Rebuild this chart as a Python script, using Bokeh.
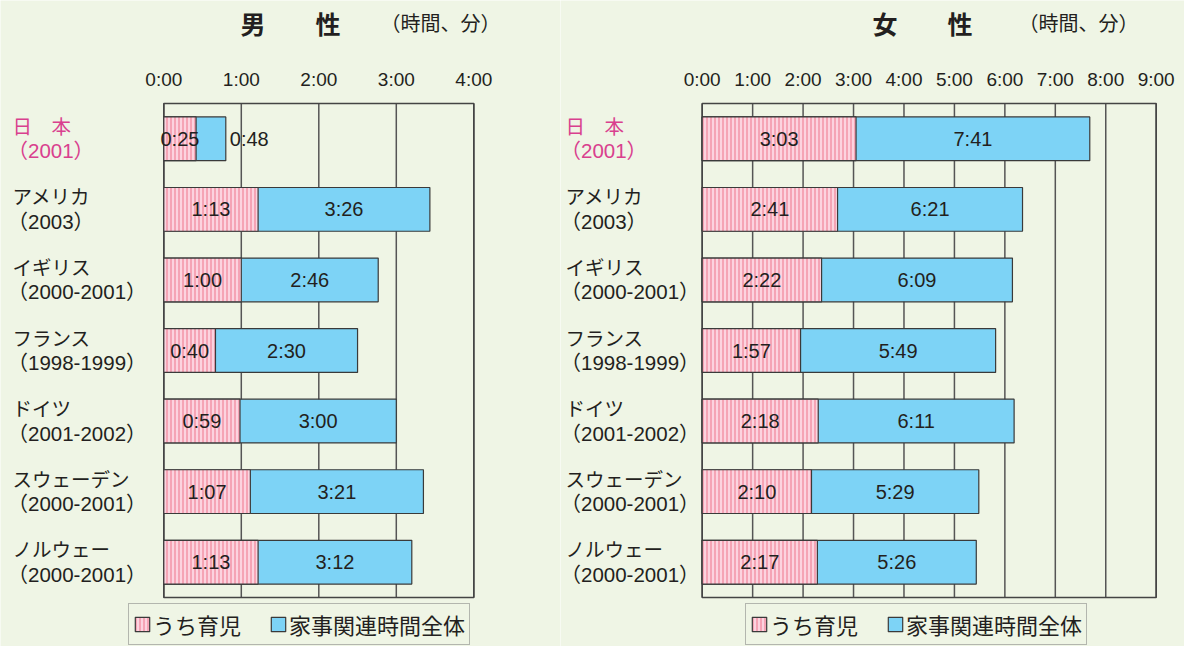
from bokeh.plotting import figure
from bokeh.models import ColumnDataSource, Range1d, Legend, LegendItem
from bokeh.layouts import row
from bokeh.embed import file_html
from bokeh.resources import INLINE
from bokeh.core.properties import value

# ---------------- data ----------------
countries = ["日\u3000本", "アメリカ", "イギリス", "フランス", "ドイツ", "スウェーデン", "ノルウェー"]
years = ["（2001）", "（2003）", "（2000-2001）", "（1998-1999）", "（2001-2002）",
         "（2000-2001）", "（2000-2001）"]
# minutes per day
male_childcare = [25, 73, 60, 40, 59, 67, 73]
male_total = [48, 206, 166, 150, 180, 201, 192]
female_childcare = [183, 161, 142, 117, 138, 130, 137]
female_total = [461, 381, 369, 349, 371, 329, 326]
male_ticks = [0, 60, 120, 180, 240]
male_tick_labels = ["0:00", "1:00", "2:00", "3:00", "4:00"]
female_ticks = [0, 60, 120, 180, 240, 300, 360, 420, 480, 540]
female_tick_labels = ["0:00", "1:00", "2:00", "3:00", "4:00", "5:00", "6:00", "7:00", "8:00", "9:00"]
legend_labels = ["うち育児", "家事関連時間全体"]

BG = "#eff5e5"
BLUE = "#7dd3f6"
PINK = "#fcd3df"
PINK_LINE = "#ee7d92"
DARK = "#231f20"
MAGENTA = "#d9408e"
GRID = "#555555"
EDGE = "#3a3a3a"
JP = value("Liberation Sans, Noto Sans CJK JP")
CJK = value("Noto Sans CJK JP")
NUM = value("Liberation Sans")
CJK_S = "Noto Sans CJK JP"

H = 646
TOP, BOTTOM = 103, 597          # pixel rows of the plotting box


def fmt(m):
    return f"{m // 60}:{m % 60:02d}"


def make_panel(title, childcare, total, ticks, tick_labels, width, frame_left, frame_w,
               label_x, legend_x, title_x, unit_x):
    xmax = ticks[-1]
    n = len(countries)
    sx = frame_w / xmax                 # px per minute
    slot = (BOTTOM - TOP) / n           # px per category
    X = lambda px: (px - frame_left) / sx
    Y = lambda py: (py - TOP) / slot

    p = figure(width=width, height=H, output_backend="svg", toolbar_location=None,
               x_range=Range1d(X(0), X(width)), y_range=Range1d(Y(H), Y(0)),
               x_axis_location=None, y_axis_location=None, min_border=0,
               background_fill_color=BG, border_fill_color=BG)
    p.outline_line_color = None
    p.grid.visible = False

    # grid + box
    p.segment(x0=ticks, y0=[0] * len(ticks), x1=ticks, y1=[n] * len(ticks),
              line_color=GRID, line_width=1.5)
    p.quad(left=[0], right=[xmax], top=[0], bottom=[n], fill_color=None,
           line_color="#444444", line_width=1.5)

    # tick labels (top)
    p.text(x=ticks, y=[Y(79)] * len(ticks), text=tick_labels, text_align="center",
           text_baseline="middle", text_font=NUM, text_font_size="19px", text_color=DARK)

    ys = [i + 0.5 for i in range(n)]
    src = ColumnDataSource(dict(y=ys, childcare=childcare, total=total))
    r_total = p.hbar(y="y", left=0, right="total", height=0.62, source=src,
                     fill_color=BLUE, line_color=EDGE, line_width=1.2)
    r_child = p.hbar(y="y", left=0, right="childcare", height=0.62, source=src,
                     fill_color=PINK, hatch_pattern="vertical_line", hatch_color=PINK_LINE,
                     hatch_scale=4, hatch_weight=1.1, line_color=EDGE, line_width=1.2)

    # value labels
    p.text(x=[c / 2 for c in childcare], y=ys, text=[fmt(c) for c in childcare],
           text_align="center", text_baseline="middle", text_font=NUM,
           text_font_size="20px", text_color=DARK)
    inside = [(t - c) >= 0.15 * xmax for c, t in zip(childcare, total)]
    p.text(x=[(c + t) / 2 for c, t, ok in zip(childcare, total, inside) if ok],
           y=[y for y, ok in zip(ys, inside) if ok],
           text=[fmt(t) for t, ok in zip(total, inside) if ok],
           text_align="center", text_baseline="middle", text_font=NUM,
           text_font_size="20px", text_color=DARK)
    if not all(inside):
        p.text(x=[t + 4 / sx for t, ok in zip(total, inside) if not ok],
               y=[y for y, ok in zip(ys, inside) if not ok],
               text=[fmt(t) for t, ok in zip(total, inside) if not ok],
               text_align="left", text_baseline="middle", text_font=NUM,
               text_font_size="20px", text_color=DARK)

    # category labels (two lines)
    colors = [MAGENTA] + [DARK] * (n - 1)
    dy = 12 / slot
    p.text(x=[X(label_x)] * n, y=[y - dy for y in ys], text=countries, text_color=colors,
           text_font=JP, text_font_size="19.5px", text_align="left", text_baseline="middle")
    p.text(x=[X(label_x - 5)] * n, y=[y + dy for y in ys], text=years, text_color=colors,
           text_font=JP, text_font_size="20.5px", text_align="left", text_baseline="middle")

    # titles
    p.text(x=[X(title_x)], y=[Y(22)], text=[title], text_font=CJK, text_font_style="bold",
           text_font_size="25px", text_color=DARK, text_align="left", text_baseline="middle")
    p.text(x=[X(unit_x)], y=[Y(22)], text=["（時間、分）"], text_font=CJK,
           text_font_size="20px", text_color=DARK, text_align="left", text_baseline="middle")

    legend = Legend(items=[LegendItem(label=legend_labels[0], renderers=[r_child]),
                           LegendItem(label=legend_labels[1], renderers=[r_total])],
                    orientation="horizontal", location=(legend_x, 1),
                    glyph_width=18, glyph_height=18, label_standoff=2, spacing=28,
                    padding=4, margin=0, border_line_color="#777777", border_line_width=1.5,
                    background_fill_color=BG, background_fill_alpha=1.0,
                    label_text_font=CJK_S, label_text_font_size="22px",
                    label_text_color=DARK)
    p.add_layout(legend)
    return p


p1 = make_panel("男\u3000\u3000性", male_childcare, male_total, male_ticks, male_tick_labels,
                width=560, frame_left=163.3, frame_w=310, label_x=12, legend_x=128,
                title_x=240, unit_x=380)
p2 = make_panel("女\u3000\u3000性", female_childcare, female_total, female_ticks,
                female_tick_labels, width=624, frame_left=141.7, frame_w=454, label_x=5,
                legend_x=185, title_x=312, unit_x=458)

layout = row(p1, p2)
open("out.html", "w").write(file_html(layout, INLINE))
